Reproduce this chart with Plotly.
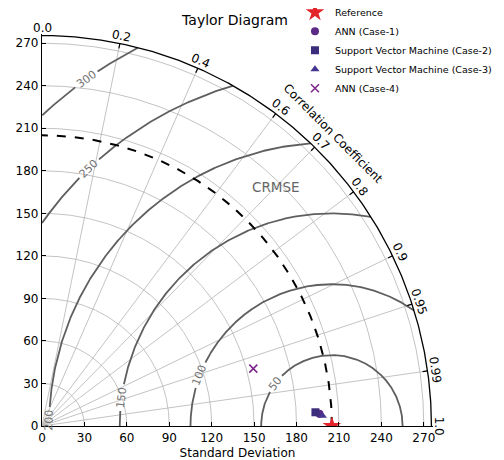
import numpy as np
import plotly.graph_objects as go

# ---------------- data ----------------
model_names = ["Reference", "ANN (Case-1)", "Support Vector Machine (Case-2)",
               "Support Vector Machine (Case-3)", "ANN (Case-4)"]
model_std = [205.0, 196.4, 193.6, 198.4, 154.8]
model_corr = [1.0, 0.99904, 0.99875, 0.99934, 0.9652]
model_symbols = ["star", "circle", "square", "triangle-up", "x-thin"]
model_colors = ["#e3242b", "#5b2a86", "#3b2c7c", "#45358f", "#7e2a8c"]
model_sizes = [14, 8, 8, 8, 8]

std_ticks = [0, 30, 60, 90, 120, 150, 180, 210, 240, 270]
corr_ticks = [0.0, 0.2, 0.4, 0.6, 0.7, 0.8, 0.9, 0.95, 0.99, 1.0]
corr_labels = ["0.0", "0.2", "0.4", "0.6", "0.7", "0.8", "0.9", "0.95", "0.99", "1.0"]
rms_levels = [50, 100, 150, 200, 250, 300]
rms_label_angle = [143, 158.9, 172.3, 178.9, 133.4, 125.4]  # label position along each contour (deg)

rmax = 275.4
ref_std = model_std[0]
FONT = "DejaVu Sans"
PX = 1.416  # px per data unit

# page has an 8px body margin; figure coordinates are page - 8
W, H = 512, 452
L, T = 33.7, 26.2
PLOT = 391.5
R_ax = rmax + 1.1


def to_paper(x, y):
    return x / R_ax, y / R_ax


def label(x, y, text, angle, size, color):
    px_, py_ = to_paper(x, y)
    return dict(x=px_, y=py_, xref="paper", yref="paper", xanchor="center", yanchor="middle",
                text=text, showarrow=False, textangle=angle,
                font=dict(family=FONT, size=size, color=color))


fig = go.Figure()

# ---- grid: std arcs ----
t = np.linspace(0, np.pi / 2, 300)
gx, gy = [], []
for r in std_ticks[1:]:
    gx += list(r * np.cos(t)) + [None]
    gy += list(r * np.sin(t)) + [None]
# radial correlation lines
for c in corr_ticks[1:-1]:
    th = np.arccos(c)
    gx += [0, rmax * np.cos(th), None]
    gy += [0, rmax * np.sin(th), None]
fig.add_trace(go.Scatter(x=gx, y=gy, mode="lines", line=dict(color="#b4b4b4", width=0.8),
                         hoverinfo="skip", showlegend=False))

# ---- RMS contours ----
cx, cy = [], []
annots = []
for R, la in zip(rms_levels, rms_label_angle):
    phi = np.linspace(0, np.pi, 3000)
    x = ref_std + R * np.cos(phi)
    y = R * np.sin(phi)
    txt = str(R)
    wpx = len(txt) * 7.0 + 6
    half = (wpx / 2) / (PX * R)
    lar = np.radians(la)
    mask = (x >= 0) & (x ** 2 + y ** 2 <= rmax ** 2) & (np.abs(phi - lar) > half)
    prev = False
    for xi, yi, m in zip(x, y, mask):
        if m:
            cx.append(xi); cy.append(yi)
        elif prev:
            cx.append(None); cy.append(None)
        prev = m
    cx.append(None); cy.append(None)
    annots.append(label(ref_std + R * np.cos(lar), R * np.sin(lar), txt, 90 - la, 11, "#737373"))
fig.add_trace(go.Scatter(x=cx, y=cy, mode="lines", line=dict(color="#5f5f5f", width=1.8),
                         hoverinfo="skip", showlegend=False))

# ---- reference std dashed arc ----
fig.add_trace(go.Scatter(x=ref_std * np.cos(t), y=ref_std * np.sin(t), mode="lines",
                         line=dict(color="black", width=2, dash="dash"),
                         hoverinfo="skip", showlegend=False))

# ---- outer arc + correlation ticks ----
fig.add_trace(go.Scatter(x=rmax * np.cos(t), y=rmax * np.sin(t), mode="lines",
                         line=dict(color="black", width=1.3), hoverinfo="skip", showlegend=False))
tx, ty = [], []
for c, lab in zip(corr_ticks, corr_labels):
    th = np.arccos(c)
    if 0 < c < 1:
        tx += [rmax * np.cos(th), (rmax - 3.5) * np.cos(th), None]
        ty += [rmax * np.sin(th), (rmax - 3.5) * np.sin(th), None]
    rl = 281.0
    annots.append(label(rl * np.cos(th), rl * np.sin(th), lab, 90 - np.degrees(th), 12, "black"))
fig.add_trace(go.Scatter(x=tx, y=ty, mode="lines", line=dict(color="black", width=1.2),
                         hoverinfo="skip", showlegend=False))

annots.append(label(291.7 * np.cos(np.pi / 4), 291.7 * np.sin(np.pi / 4),
                    "Correlation Coefficient", 45, 12, "black"))
annots.append(label(165.5, 168.6, "CRMSE", 0, 13.5, "#666666"))

# ---- model points ----
for name, s, c, sym, col, sz in zip(model_names, model_std, model_corr, model_symbols,
                                    model_colors, model_sizes):
    th = np.arccos(c)
    mk = dict(symbol=sym, color=col, size=sz)
    if sym == "x-thin":
        mk["line"] = dict(color=col, width=1.6)
    else:
        mk["line"] = dict(width=0)
    fig.add_trace(go.Scatter(x=[s * np.cos(th)], y=[s * np.sin(th)], mode="markers",
                             marker=mk, name=name))

axis_common = dict(range=[0, R_ax], showgrid=False, zeroline=False, showline=True,
                   linecolor="black", linewidth=1.2, ticks="inside", ticklen=4,
                   tickcolor="black", tickvals=std_ticks, automargin=False,
                   tickfont=dict(family=FONT, size=12, color="black"))

plot_bottom = T + PLOT
fig.update_layout(
    width=W, height=H,
    margin=dict(l=L, r=W - L - PLOT, t=T, b=H - T - PLOT, autoexpand=False),
    plot_bgcolor="white", paper_bgcolor="white",
    font=dict(family=FONT, color="black"),
    title=dict(text="Taylor Diagram", x=(235 - 8) / W, xanchor="center", y=1 - 12 / H,
               yanchor="middle", font=dict(family=FONT, size=14, color="black")),
    xaxis=dict(**axis_common, title=dict(text="Standard Deviation",
                                         font=dict(family=FONT, size=12), standoff=6)),
    yaxis=dict(**axis_common),
    legend=dict(x=(287 - L) / PLOT, y=(plot_bottom - (-10)) / PLOT, xanchor="left", yanchor="top",
                bgcolor="rgba(0,0,0,0)", font=dict(family=FONT, size=9.5, color="black"),
                itemwidth=30, tracegroupgap=0),
    annotations=annots,
)

fig.write_html("out.html",
               post_script="document.documentElement.style.overflow='hidden';"
                           "document.body.style.overflow='hidden';")
